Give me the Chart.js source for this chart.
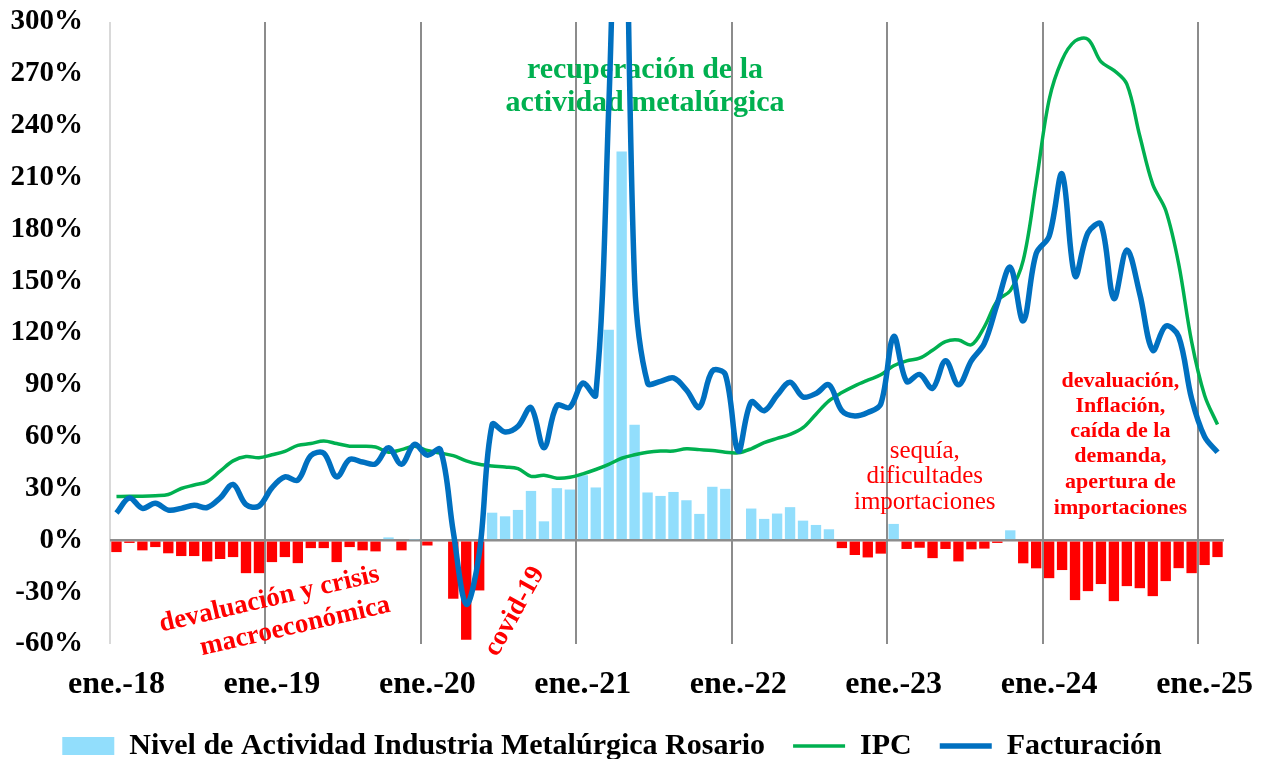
<!DOCTYPE html>
<html>
<head>
<meta charset="utf-8">
<script src="https://cdn.jsdelivr.net/npm/chart.js@4.4.1/dist/chart.umd.min.js"></script>
<style>
  html, body { margin: 0; padding: 0; background: #fff; }
  #wrap { width: 1261px; height: 759px; }
</style>
</head>
<body>
<div id="wrap"><canvas id="grafico"></canvas></div>
<script>
// meses y años del eje
const meses = ['ene.', 'feb.', 'mar.', 'abr.', 'may.', 'jun.', 'jul.', 'ago.', 'sept.', 'oct.', 'nov.', 'dic.'];
const anios = ['18', '19', '20', '21', '22', '23', '24', '25'];

// Nivel de Actividad Industria Metalúrgica Rosario (var. % interanual)
const nivelActividad = [
  -6.8, -1.5, -5.8, -3.9, -7.5, -9.1, -9.1, -12.2, -10.8, -9.7, -19, -19,
  -12.6, -9.7, -13.2, -4.5, -4.5, -12.6, -3.9, -5.8, -6.4, 1.7, -5.8, 0.5,
  -3, 0, -33.8, -57.6, -29, 16, 13.9, 17.6, 28.6, 11, 30.2, 29.4,
  37.7, 30.6, 121.9, 225, 66.9, 27.7, 25.7, 28, 23.2, 15.3, 31, 29.8,
  0, 18.4, 12.4, 15.5, 19.2, 11.4, 8.9, 6.4, -4.5, -8.5, -9.9, -7.7,
  9.5, -5, -4.3, -10.3, -5, -12.2, -5.2, -4.8, -1.5, 5.8, -13.3, -16.2,
  -21.9, -17.2, -34.6, -29.4, -25.3, -35.2, -26.5, -27.7, -32.3, -23.6, -16.1, -19,
  -14.3, -9.7
];

// IPC (var. % interanual)
const ipc = [
  25.3, 25.5, 25.5, 25.8, 26.5, 30, 32, 34, 40, 46, 48.5, 47.8,
  49.5, 51.5, 55, 56, 57.5, 56, 54.5, 54.5, 54, 51, 52.5, 54.5,
  52, 50.5, 49, 46, 44, 43, 42.5, 41.5, 37, 37.7, 36, 36.5,
  38.5, 41, 44, 47.5, 49.5, 51, 51.7, 51.7, 53, 52.5, 52, 51,
  50.7, 53, 56.5, 59, 61.3, 65.2, 73, 80.7, 85.5, 89.4, 92.7, 95.8,
  101, 103.9, 105.4, 110, 115, 115.9, 113.2, 123.6, 138.7, 144.5, 162, 207,
  255, 278, 289, 290, 277, 272, 264, 234, 206, 191, 160, 115,
  84, 67
];

// Facturación (var. % interanual)
const facturacion = [
  15.8, 24.5, 18.5, 21.5, 17.5, 18.5, 20.3, 19, 24.5, 32.3, 20.7, 19.8,
  30.4, 36.7, 34.8, 49, 50.5, 36.7, 46.8, 45.3, 44.3, 53.6, 44, 55.5,
  49.3, 52.6, 5, -37, -8, 67, 62.7, 66, 76.8, 53.6, 78, 77,
  91, 84, 250, 480, 150, 91, 92, 94, 87, 77, 98, 96,
  51.7, 80, 75, 84, 91.5, 83, 85, 90, 75, 72, 74, 78.8,
  118, 92, 96, 88, 104, 90, 104, 114, 137, 158, 127, 166,
  176, 212, 153, 178, 183, 140, 168, 142.6, 110, 124, 118, 82,
  60, 51
];

const etiquetas = [];
anios.forEach(a => meses.forEach(m => etiquetas.push(m + '-' + a)));
etiquetas.length = nivelActividad.length;

const AZUL_CLARO = '#92DEFC';
const ROJO = '#FF0000';
const VERDE = '#00B050';
const AZUL = '#0070C0';
const FUENTE = "'Liberation Serif', 'DejaVu Serif', serif";

// textos sobre el grafico, ubicados en coordenadas de datos (mes, %)
const notas = [
  { texto: 'recuperación de la', x: 40.8, y: 272, color: VERDE, size: 30, weight: 'bold' },
  { texto: 'actividad metalúrgica', x: 40.8, y: 253, color: VERDE, size: 30, weight: 'bold' },
  { texto: 'devaluación y crisis', x: 11.8, y: -34.2, color: ROJO, size: 27, weight: 'bold', rot: -13 },
  { texto: 'macroeconómica', x: 13.8, y: -49.9, color: ROJO, size: 27, weight: 'bold', rot: -13 },
  { texto: 'covid-19', x: 30.75, y: -41.2, color: ROJO, size: 27, weight: 'bold', rot: -61 },
  { texto: 'sequía,', x: 62.4, y: 51.7, color: ROJO, size: 25, weight: 'normal' },
  { texto: 'dificultades', x: 62.4, y: 37.1, color: ROJO, size: 25, weight: 'normal' },
  { texto: 'importaciones', x: 62.4, y: 22, color: ROJO, size: 25, weight: 'normal' },
  { texto: 'devaluación,', x: 77.5, y: 92.3, color: ROJO, size: 22, weight: 'bold' },
  { texto: 'Inflación,', x: 77.5, y: 77.8, color: ROJO, size: 22, weight: 'bold' },
  { texto: 'caída de la', x: 77.5, y: 63.3, color: ROJO, size: 22, weight: 'bold' },
  { texto: 'demanda,', x: 77.5, y: 48.8, color: ROJO, size: 22, weight: 'bold' },
  { texto: 'apertura de', x: 77.5, y: 33.7, color: ROJO, size: 22, weight: 'bold' },
  { texto: 'importaciones', x: 77.5, y: 18.6, color: ROJO, size: 22, weight: 'bold' }
];

const pluginNotas = {
  id: 'notas',
  beforeDatasetsDraw(chart) {
    const ctx = chart.ctx;
    const sx = chart.scales.x, sy = chart.scales.y;
    notas.forEach(n => {
      ctx.save();
      ctx.translate(sx.getPixelForValue(n.x), sy.getPixelForValue(n.y));
      if (n.rot) ctx.rotate(n.rot * Math.PI / 180);
      ctx.font = n.weight + ' ' + n.size + 'px ' + FUENTE;
      ctx.fillStyle = n.color;
      ctx.textAlign = 'center';
      ctx.textBaseline = 'middle';
      ctx.fillText(n.texto, 0, 0);
      ctx.restore();
    });
  }
};

Chart.defaults.font.family = FUENTE;
Chart.defaults.font.weight = 'bold';
Chart.defaults.color = '#000';

const ctx = document.getElementById('grafico');

new Chart(ctx, {
  data: {
    labels: etiquetas,
    datasets: [
      {
        type: 'bar',
        label: 'Nivel de Actividad Industria Metalúrgica Rosario',
        data: nivelActividad,
        backgroundColor: c => (c.raw < 0 ? ROJO : AZUL_CLARO),
        borderWidth: 0,
        categoryPercentage: 1,
        barPercentage: 0.8,
        order: 3
      },
      {
        type: 'line',
        label: 'IPC',
        data: ipc,
        borderColor: VERDE,
        backgroundColor: VERDE,
        borderWidth: 3.5,
        pointRadius: 0,
        tension: 0.35,
        order: 2
      },
      {
        type: 'line',
        label: 'Facturación',
        data: facturacion,
        borderColor: AZUL,
        backgroundColor: AZUL,
        borderWidth: 5.5,
        pointRadius: 0,
        tension: 0.35,
        order: 1
      }
    ]
  },
  options: {
    responsive: true,
    maintainAspectRatio: false,
    animation: false,
    layout: { padding: { top: 22, right: 37, left: 0, bottom: -12 } },
    scales: {
      x: {
        offset: true,
        grid: {
          offset: true,
          drawTicks: false,
          lineWidth: 2,
          color: c => {
            if (c.index === 0) return '#d9d9d9';
            if (c.index !== undefined && c.index % 12 === 0) return '#8c8c8c';
            return 'rgba(0,0,0,0)';
          }
        },
        border: { display: false },
        ticks: {
          autoSkip: false,
          maxRotation: 0,
          padding: 22,
          font: { size: 32, weight: 'bold' },
          callback: function (v, i) { return i % 12 === 0 ? this.getLabelForValue(v) : ''; }
        },
        afterFit: s => { s.height = 59; }
      },
      y: {
        min: -60,
        max: 300,
        grid: {
          drawTicks: false,
          lineWidth: 2.5,
          color: c => (c.tick && c.tick.value === 0 ? '#8c8c8c' : 'rgba(0,0,0,0)')
        },
        border: { display: false },
        ticks: {
          stepSize: 30,
          padding: 27,
          font: { size: 29, weight: 'bold' },
          callback: v => v + '%'
        },
        afterFit: s => {
          s.width = 110;
          s.paddingTop = 0;
          s.paddingBottom = 0;
        }
      }
    },
    plugins: {
      legend: {
        position: 'bottom',
        labels: {
          usePointStyle: true,
          pointStyleWidth: 52,
          boxHeight: 18,
          padding: 28,
          font: { size: 30, weight: 'bold' },
          generateLabels: chart => {
            const items = Chart.defaults.plugins.legend.labels.generateLabels(chart);
            items.sort((a, b) => a.datasetIndex - b.datasetIndex);
            items.forEach(it => {
              if (it.datasetIndex === 0) {
                it.pointStyle = 'rect';
                it.fillStyle = AZUL_CLARO;
                it.strokeStyle = AZUL_CLARO;
                it.lineWidth = 0;
              } else {
                it.pointStyle = 'line';
              }
            });
            return items;
          }
        }
      },
      tooltip: { enabled: false }
    }
  },
  plugins: [pluginNotas]
});
</script>
</body>
</html>
